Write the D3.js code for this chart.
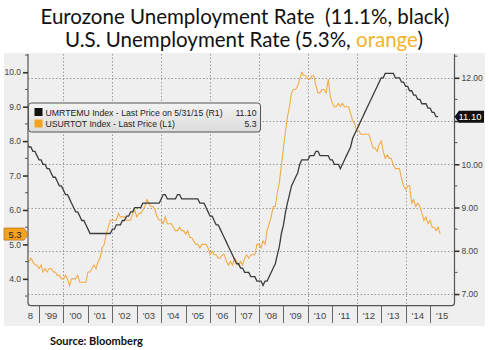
<!DOCTYPE html>
<html>
<head>
<meta charset="utf-8">
<script src="https://cdn.jsdelivr.net/npm/d3@7"></script>
<style>
  body { margin: 0; background: #fff; }
  svg { display: block; }
</style>
</head>
<body>
<div id="container"></div>
<script>
// Eurozone (right axis, black) and US (left axis, orange) unemployment, monthly

// Eurozone UMRTEMU, Jul 1998 .. May 2015
const ezValues = [
  10.5, 10.4, 10.4, 10.3, 10.3, 10.2,
  10.1, 10.1, 10.0, 10.0, 9.9, 9.9, 9.8, 9.7, 9.7, 9.6, 9.5, 9.5,
  9.4, 9.3, 9.3, 9.2, 9.1, 9.0, 8.9, 8.9, 8.8, 8.7, 8.7, 8.6,
  8.5, 8.4, 8.4, 8.4, 8.4, 8.4, 8.4, 8.4, 8.4, 8.4, 8.4, 8.4,
  8.5, 8.5, 8.6, 8.6, 8.6, 8.7, 8.7, 8.8, 8.8, 8.9, 8.9, 9.0,
  9.0, 9.0, 9.0, 9.1, 9.1, 9.1, 9.1, 9.1, 9.1, 9.1, 9.1, 9.1,
  9.2, 9.3, 9.3, 9.2, 9.2, 9.2, 9.2, 9.2, 9.3, 9.3, 9.2, 9.2,
  9.2, 9.2, 9.2, 9.2, 9.2, 9.2, 9.2, 9.1, 9.1, 9.1, 9.0, 8.9,
  8.8, 8.8, 8.7, 8.6, 8.6, 8.5, 8.4, 8.3, 8.2, 8.1, 8.0, 7.9,
  7.8, 7.7, 7.7, 7.6, 7.6, 7.5, 7.5, 7.5, 7.4, 7.4, 7.4, 7.3,
  7.3, 7.3, 7.2, 7.3, 7.3, 7.4, 7.5, 7.6, 7.7, 7.9, 8.1, 8.4,
  8.6, 8.9, 9.1, 9.3, 9.5, 9.6, 9.7, 9.8, 10.0, 10.1, 10.1, 10.1,
  10.1, 10.2, 10.2, 10.2, 10.3, 10.3, 10.2, 10.2, 10.2, 10.2, 10.2, 10.1,
  10.1, 10.0, 10.0, 10.0, 9.9, 10.0, 10.1, 10.2, 10.3, 10.4, 10.6, 10.7,
  10.8, 10.9, 11.0, 11.1, 11.2, 11.3, 11.4, 11.5, 11.6, 11.7, 11.8, 11.9,
  12.0, 12.0, 12.1, 12.1, 12.1, 12.1, 12.1, 12.0, 12.0, 12.0, 11.9, 11.9,
  11.8, 11.8, 11.7, 11.7, 11.6, 11.6, 11.5, 11.5, 11.4, 11.4, 11.4, 11.3,
  11.3, 11.2, 11.2, 11.1, 11.1
];

// US USURTOT, Jul 1998 .. Jun 2015
const usValues = [
  4.5, 4.5, 4.6, 4.5, 4.4, 4.4,
  4.3, 4.4, 4.2, 4.3, 4.2, 4.3, 4.3, 4.2, 4.2, 4.1, 4.1, 4.0,
  4.0, 4.1, 4.0, 3.8, 4.0, 4.0, 4.0, 4.1, 3.9, 3.9, 3.9, 3.9,
  4.2, 4.2, 4.3, 4.4, 4.3, 4.5, 4.6, 4.9, 5.0, 5.3, 5.5, 5.7,
  5.7, 5.7, 5.7, 5.9, 5.8, 5.8, 5.8, 5.7, 5.7, 5.7, 5.9, 6.0,
  5.8, 5.9, 5.9, 6.0, 6.1, 6.3, 6.2, 6.1, 6.1, 6.0, 5.8, 5.7,
  5.7, 5.6, 5.8, 5.6, 5.6, 5.6, 5.5, 5.4, 5.4, 5.5, 5.4, 5.4,
  5.3, 5.4, 5.2, 5.2, 5.1, 5.0, 5.0, 4.9, 5.0, 5.0, 5.0, 4.9,
  4.7, 4.8, 4.7, 4.7, 4.6, 4.6, 4.7, 4.7, 4.5, 4.4, 4.5, 4.4,
  4.6, 4.5, 4.4, 4.5, 4.4, 4.6, 4.7, 4.6, 4.7, 4.7, 4.7, 5.0,
  5.0, 4.9, 5.1, 5.0, 5.4, 5.6, 5.8, 6.1, 6.1, 6.5, 6.8, 7.3,
  7.8, 8.3, 8.7, 9.0, 9.4, 9.5, 9.5, 9.6, 9.8, 10.0, 9.9, 9.9,
  9.8, 9.8, 9.9, 9.9, 9.6, 9.4, 9.4, 9.5, 9.5, 9.4, 9.8, 9.3,
  9.1, 9.0, 9.0, 9.1, 9.0, 9.1, 9.0, 9.0, 9.0, 8.8, 8.6, 8.5,
  8.3, 8.3, 8.2, 8.2, 8.2, 8.2, 8.2, 8.0, 7.8, 7.8, 7.7, 7.9,
  8.0, 7.7, 7.5, 7.6, 7.5, 7.5, 7.3, 7.2, 7.2, 7.2, 6.9, 6.7,
  6.6, 6.7, 6.7, 6.2, 6.3, 6.1, 6.2, 6.1, 5.9, 5.7, 5.8, 5.6,
  5.7, 5.5, 5.5, 5.4, 5.5, 5.3
];

const years = d3.range(1998, 2016);
const leftTicks = [4, 5, 6, 7, 8, 9, 10];
const rightTicks = [7, 8, 9, 10, 11, 12];
const legendRows = [
  {name: "UMRTEMU Index - Last Price on 5/31/15 (R1)", value: "11.10", color: "#111"},
  {name: "USURTOT Index - Last Price (L1)", value: "5.3", color: "#f5a31f"}
];

const W = 489, H = 350;
const plot = {left: 28, right: 454.5, top: 54, bottom: 305.7};

const svg = d3.select("#container").append("svg")
    .attr("width", W).attr("height", H)
    .style("font-family", "'Liberation Sans', Arial, sans-serif");

const start = new Date(1998, 6, 1);
const ez = ezValues.map((v, i) => ({date: d3.timeMonth.offset(start, i), v}));
const us = usValues.map((v, i) => ({date: d3.timeMonth.offset(start, i), v}));

const x = d3.scaleTime()
  .domain([new Date(1998, 6, 20), new Date(2016, 0, 1)])
  .range([plot.left, plot.right]);
const yL = d3.scaleLinear().domain([3.22, 10.53]).range([plot.bottom, plot.top]);
const yR = d3.scaleLinear().domain([6.73, 12.55]).range([plot.bottom, plot.top]);

const lastUS = us[us.length - 1].v, lastEZ = ez[ez.length - 1].v;

// title
const title = svg.append("g")
    .style("font-family", "Lato, 'Open Sans', sans-serif")
    .style("font-size", "20.5px")
    .attr("text-anchor", "middle")
    .attr("fill", "#111");
title.append("text").attr("x", 245).attr("y", 24)
  .attr("xml:space", "preserve")
  .text("Eurozone Unemployment Rate  (11.1%, black)");
const t2 = title.append("text").attr("x", 244).attr("y", 47);
t2.append("tspan").text("U.S. Unemployment Rate (5.3%, ");
t2.append("tspan").attr("fill", "#f2b32c").text("orange");
t2.append("tspan").text(")");

// background
svg.append("rect")
  .attr("x", 4).attr("y", 53).attr("width", 481).attr("height", 273)
  .attr("fill", "#efefef");

svg.append("defs").append("clipPath").attr("id", "clip")
  .append("rect")
    .attr("x", plot.left).attr("y", plot.top)
    .attr("width", plot.right - plot.left).attr("height", 280);

// gridlines
const grid = svg.append("g")
    .attr("stroke", "#999").attr("stroke-width", 1)
    .attr("stroke-dasharray", "1.5,2");
grid.selectAll(".hg").data(rightTicks).join("line")
    .attr("x1", plot.left).attr("x2", plot.right)
    .attr("y1", d => Math.round(yR(d)) + 0.5).attr("y2", d => Math.round(yR(d)) + 0.5);
grid.selectAll(".vg").data(d3.range(2000, 2016, 2)).join("line")
    .attr("x1", d => Math.round(x(new Date(d, 0, 1))) + 0.5)
    .attr("x2", d => Math.round(x(new Date(d, 0, 1))) + 0.5)
    .attr("y1", plot.top).attr("y2", plot.bottom);

// lines
const lineL = d3.line().x(d => x(d.date)).y(d => yL(d.v));
const lineR = d3.line().x(d => x(d.date)).y(d => yR(d.v));
const lines = svg.append("g").attr("clip-path", "url(#clip)");
lines.append("path").datum(us)
  .attr("d", lineL).attr("fill", "none")
  .attr("stroke", "#f3ac45").attr("stroke-width", 1.1);
lines.append("path").datum(ez)
  .attr("d", lineR).attr("fill", "none")
  .attr("stroke", "#3b3b3b").attr("stroke-width", 1.3);

// frame
svg.append("path")
  .attr("d", `M${plot.left},${plot.top}V${plot.bottom - 3}q0,3 3,3H${plot.right - 3}q3,0 3,-3V${plot.top}`)
  .attr("fill", "none").attr("stroke", "#555").attr("stroke-width", 1.2);

// left axis
const axL = svg.append("g").attr("transform", `translate(${plot.left},0)`)
  .call(d3.axisLeft(yL).tickValues(leftTicks).tickFormat(d3.format(".1f")).tickSize(5).tickPadding(2));
axL.select(".domain").remove();
axL.selectAll(".tick line").attr("stroke", "#333").attr("stroke-width", 1.6);
axL.selectAll("text").attr("fill", "#444").style("font-size", "8.5px");
svg.append("g").selectAll("line").data(d3.range(3.5, 10.6, 1)).join("line")
  .attr("x1", plot.left - 3).attr("x2", plot.left)
  .attr("y1", d => yL(d)).attr("y2", d => yL(d))
  .attr("stroke", "#555");

// right axis (the 11 label sits under the last-value badge)
const axR = svg.append("g").attr("transform", `translate(${plot.right},0)`)
  .call(d3.axisRight(yR).tickValues(rightTicks)
    .tickFormat(d => d === 11 ? "" : d3.format(".2f")(d)).tickSize(5).tickPadding(2));
axR.select(".domain").remove();
axR.selectAll(".tick line").attr("stroke", "#333").attr("stroke-width", 1.6);
axR.selectAll("text").attr("fill", "#444").style("font-size", "8.5px");
svg.append("g").selectAll("line").data(d3.range(7.5, 12.6, 1)).join("line")
  .attr("x1", plot.right).attr("x2", plot.right + 3)
  .attr("y1", d => yR(d)).attr("y2", d => yR(d))
  .attr("stroke", "#555");

// year band
const band = svg.append("g");
band.selectAll("line").data(years.slice(1)).join("line")
  .attr("x1", d => Math.round(x(new Date(d, 0, 1))) + 0.5)
  .attr("x2", d => Math.round(x(new Date(d, 0, 1))) + 0.5)
  .attr("y1", plot.bottom).attr("y2", 323)
  .attr("stroke", "#666");
band.append("g").attr("clip-path", "url(#clip)")
  .selectAll("text").data(years).join("text")
  .attr("x", d => x(new Date(d, 6, 1)))
  .attr("y", 319)
  .attr("text-anchor", "middle")
  .attr("fill", "#444")
  .style("font-size", "9.5px")
  .text(d => "'" + String(d).slice(2));

// last value badges
const by = yL(lastUS);
svg.append("path")
  .attr("d", `M4,${by - 6}H24L28,${by}L24,${by + 6}H4Z`)
  .attr("fill", "#f5a31f").attr("stroke", "#b8741a").attr("stroke-width", 0.8);
svg.append("text").attr("x", 15).attr("y", by + 3.5)
  .attr("text-anchor", "middle").style("font-size", "9.5px").attr("fill", "#222")
  .text(lastUS.toFixed(1));
const ry = yR(lastEZ);
svg.append("path")
  .attr("d", `M${plot.right},${ry}L${plot.right + 4.5},${ry - 6}H484V${ry + 6}H${plot.right + 4.5}Z`)
  .attr("fill", "#111");
svg.append("text").attr("x", 470).attr("y", ry + 3.5)
  .attr("text-anchor", "middle").style("font-size", "9.5px").attr("fill", "#fff")
  .text(lastEZ.toFixed(2));

// legend
const lg = svg.append("g").attr("transform", "translate(28.5,103)");
const grad = svg.select("defs").append("linearGradient").attr("id", "lgGrad")
  .attr("x1", 0).attr("y1", 0).attr("x2", 0).attr("y2", 1);
grad.append("stop").attr("offset", 0).attr("stop-color", "#f3f3f3");
grad.append("stop").attr("offset", 1).attr("stop-color", "#dcdcdc");
lg.append("rect").attr("width", 232).attr("height", 29).attr("rx", 3)
  .attr("fill", "url(#lgGrad)").attr("stroke", "#555").attr("stroke-width", 1);
const row = lg.selectAll(".row").data(legendRows).join("g")
  .attr("transform", (d, i) => `translate(0,${9 + i * 11.5})`);
row.append("rect").attr("x", 6).attr("y", -4).attr("width", 8).attr("height", 8)
  .attr("fill", d => d.color);
row.append("text").attr("x", 17).attr("y", 3.5)
  .style("font-size", "8.7px").attr("fill", "#222").text(d => d.name);
row.append("text").attr("x", 228).attr("y", 3.5).attr("text-anchor", "end")
  .style("font-size", "8.7px").attr("fill", "#222").text(d => d.value);

// source
svg.append("text").attr("x", 50).attr("y", 345)
  .style("font-family", "Lato, sans-serif").style("font-size", "11px").style("font-weight", "bold")
  .attr("fill", "#111").text("Source: Bloomberg");
</script>
</body>
</html>
